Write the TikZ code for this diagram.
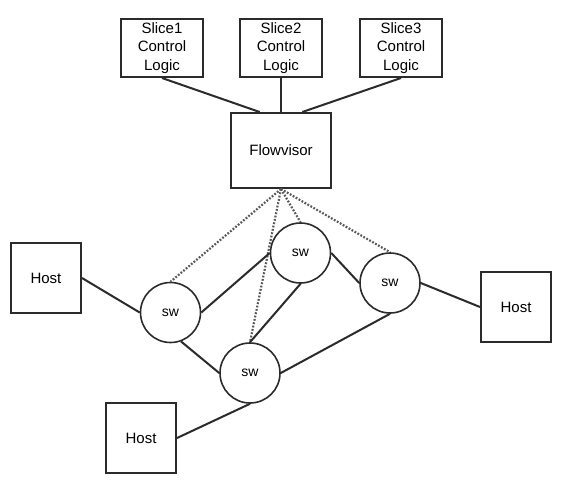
\documentclass[tikz,border=0pt]{standalone}
\usepackage{fontspec}
\setmainfont{Liberation Sans}
\definecolor{edge}{HTML}{2B2B2B}
\tikzset{
	ctrl/.style={draw=edge, line width=2pt, minimum width=82pt, minimum height=58pt, inner sep=0pt, align=center, font=\fontsize{15}{18.5}\selectfont},
	hostbox/.style={draw=edge, line width=2pt, minimum width=70pt, minimum height=70pt, inner sep=0pt, font=\fontsize{15}{18}\selectfont},
	swnode/.style={circle, draw=edge, line width=1.6pt, minimum size=60pt, inner sep=0pt, font=\fontsize{14}{16}\selectfont},
	link/.style={draw=edge, line width=2pt},
	ctl/.style={draw=gray!70!black, line width=2.2pt, dash pattern=on 1.8pt off 1.6pt}
}
\begin{document}
\begin{tikzpicture}[x=1pt, y=-1pt]
			\useasboundingbox (0,0) rectangle (577,493);
			\node[ctrl] (s1) at (162,48) {Slice1\\Control\\Logic};
			\node[ctrl] (s2) at (281,48) {Slice2\\Control\\Logic};
			\node[ctrl] (s3) at (401,48) {Slice3\\Control\\Logic};
			\node[draw=edge, line width=2pt, minimum width=100pt, minimum height=75pt, font=\fontsize{15}{18}\selectfont] (fv) at (281,150.5) {Flowvisor};
			\node[hostbox] (h1) at (46,278) {Host};
			\node[hostbox] (h2) at (516,307) {Host};
			\node[hostbox] (h3) at (141,438) {Host};
			\node[swnode] (sw1) at (170.5,312.5) {sw};
			\node[swnode] (sw2) at (300.5,253) {sw};
			\node[swnode] (sw3) at (390,283) {sw};
			\node[swnode] (sw4) at (250,373) {sw};
			\draw[link] (s1.south) -- (fv.119);
			\draw[link] (s2.south) -- (fv.north);
			\draw[link] (s3.south) -- (fv.61);
			\draw[ctl] (fv.south) -- (sw1.north);
			\draw[ctl] (fv.south) -- (sw2.north);
			\draw[ctl] (fv.south) -- (sw3.north);
			\draw[ctl] (fv.south) -- (sw4.north);
			\draw[link] (h1.east) -- (sw1.west);
			\draw[link] (sw1.east) -- (sw2.west);
			\draw[link] (sw1.-70) -- (sw4.west);
			\draw[link] (sw2.south) -- (sw4.north);
			\draw[link] (sw2.east) -- (sw3.west);
			\draw[link] (sw3.east) -- (h2.west);
			\draw[link] (sw4.east) -- (sw3.south);
			\draw[link] (sw4.south) -- (h3.east);
		\end{tikzpicture}
\end{document}
